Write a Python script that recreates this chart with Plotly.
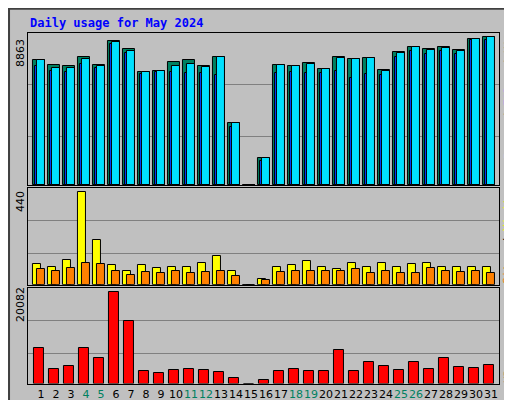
import plotly.graph_objects as go

days = list(range(1, 32))
hits = [7479,7179,7118,7660,7179,8622,8141,6757,6818,7359,7479,7118,7660,3750,0,1644,7179,7118,7299,6938,7660,7540,7600,6878,7961,8261,8141,8261,8081,8743,8863]
files = [7479,6998,6998,7540,7118,8562,8021,6757,6818,7118,7239,7058,7660,3750,0,1644,7179,7118,7239,6938,7600,7540,7600,6818,7900,8261,8081,8201,8021,8743,8863]
pages = [7118,6818,6757,7239,6998,8442,7900,6637,6757,6757,6697,6697,6577,3509,0,1464,6697,6757,6697,6697,6818,6396,6637,6577,7660,8021,7840,8021,7840,8683,8683]
visits = [97,83,116,440,211,92,68,92,78,87,87,106,135,64,0,30,87,92,111,83,73,102,87,102,87,97,102,83,87,83,83]
sites = [73,64,78,106,97,64,49,59,54,64,54,59,64,40,0,25,59,68,68,64,64,73,54,68,54,54,78,64,59,68,54]
kbytes = [7769,3152,3811,7769,5570,20082,13706,2712,2272,2932,3152,2932,2492,1173,0,733,2712,3152,2712,2712,7329,2712,4691,3811,2932,4691,3152,5570,3591,3371,4031]
weekend = {4,5,11,12,18,19,25,26}
max_hits, max_visits, max_kb = 8863, 440, 20082

BG = "#c0c0c0"
fig = go.Figure()
line = dict(color="black", width=1)

def bar(y, color, off, w, ax):
    fig.add_trace(go.Bar(x=days, y=y, marker=dict(color=color, line=line), offset=off, width=w,
                         xaxis="x" + ax, yaxis="y" + ax, showlegend=False))

bar(hits, "#008060", 0.0, 0.76, "")
bar(pages, "#0040ff", 0.13, 0.63, "")
bar(files, "#00e0ff", 0.27, 0.49, "")
bar(visits, "#ffff00", 0.0, 0.53, "2")
bar(sites, "#ff8000", 0.27, 0.49, "2")
bar(kbytes, "#ff0000", 0.067, 0.66, "3")

ticktext = [f'<span style="color:#008060">{d}</span>' if d in weekend else str(d) for d in days]
xd = [0.039, 0.959]
def xax(show):
    return dict(domain=xd, range=[0.647, 32.047], showgrid=False, zeroline=False,
                tickvals=[d + 0.51 for d in days] if show else [], ticktext=ticktext if show else None,
                showticklabels=show, ticks="", tickangle=0, showline=True, linecolor="black", mirror=True,
                automargin=False, tickfont=dict(family="DejaVu Sans", size=11, color="black"))
def yax(dom, top, anchor):
    return dict(domain=dom, range=[0, top], tickvals=[top * 0.32, top * 0.66], showticklabels=False,
                gridcolor="#808080", gridwidth=1, zeroline=False, showline=True, linecolor="black",
                mirror=True, anchor=anchor, automargin=False)

fig.update_layout(
    width=512, height=400, margin=dict(l=0, r=0, t=0, b=0, autoexpand=False),
    paper_bgcolor=BG, plot_bgcolor=BG, barmode="overlay", bargap=0,
    xaxis=xax(False) | dict(anchor="y"),
    xaxis2=xax(False) | dict(anchor="y2"),
    xaxis3=xax(True) | dict(anchor="y3"),
    yaxis=yax([0.5575, 0.9375], max_hits * 455 / 442, "x"),
    yaxis2=yax([0.308, 0.55], max_visits * 290 / 277, "x2"),
    yaxis3=yax([0.061, 0.30], max_kb * 287 / 274, "x3"),
)

mono = "DejaVu Sans Mono"
ann = [
    dict(x=20, y=15, text="<b>Daily usage for May 2024</b>", font=dict(family=mono, size=12, color="#0000ff"), xanchor="left"),
    dict(x=12, y=45, text=str(max_hits), textangle=-90, font=dict(family="DejaVu Sans", size=11, color="black")),
    dict(x=12, y=194, text=str(max_visits), textangle=-90, font=dict(family="DejaVu Sans", size=11, color="black")),
    dict(x=12, y=297, text=str(max_kb), textangle=-90, font=dict(family="DejaVu Sans", size=11, color="black")),
    dict(x=500, y=85, text='<span style="color:#00c8e0">Pages</span> / <span style="color:#0040ff">Files</span> / <span style="color:#008060">Hits</span>',
         textangle=-90, font=dict(family=mono, size=11, color="black")),
    dict(x=500, y=230, text='<span style="color:#ff8000">Sites</span> / <span style="color:#ffff00">Visits</span>',
         textangle=-90, font=dict(family=mono, size=11, color="black")),
    dict(x=500, y=355, text="KBytes", textangle=-90, font=dict(family=mono, size=11, color="#ff0000")),
]
for a in ann:
    fig.add_annotation(xref="paper", yref="paper", x=a["x"] / 512, y=1 - a["y"] / 400,
                       text=a["text"], textangle=a.get("textangle", 0), font=a["font"],
                       showarrow=False, xanchor=a.get("xanchor", "center"), yanchor="middle")

fig.add_shape(type="rect", xref="paper", yref="paper", x0=0.002, y0=0.002, x1=0.998, y1=0.998,
              line=dict(color="#404040", width=2))
fig.write_html("out.html")
